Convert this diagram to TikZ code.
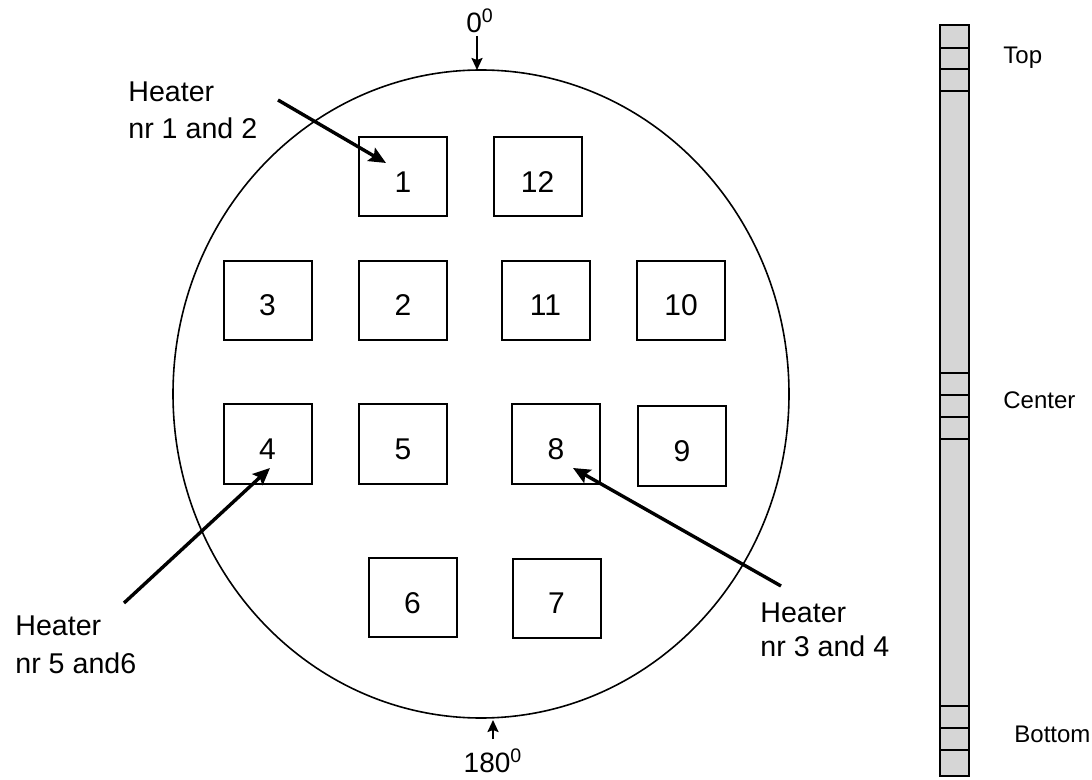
\documentclass[tikz,border=0pt]{standalone}
\usepackage{fontspec}
\setmainfont{Liberation Sans}
\usetikzlibrary{arrows.meta,calc}
\tikzset{
  heaterbox/.style={draw, line width=1pt, minimum width=44pt, minimum height=39.5pt,
    inner sep=0pt, font=\fontsize{15}{17}\selectfont, text height=15.5pt, text depth=0pt},
  pointer/.style={line width=1.7pt, -{Stealth[length=8.5pt,width=7.5pt,inset=1.5pt]}},
  tick/.style={line width=1.1pt, -{Stealth[length=6pt,width=5.5pt,inset=1pt]}},
  heaterlabel/.style={anchor=north west, inner sep=0pt, align=left},
  zonelabel/.style={anchor=west, inner sep=0pt, font=\fontsize{12}{14}\selectfont},
  anglelabel/.style={inner sep=0pt, font=\fontsize{14}{16}\selectfont}
}
\begin{document}
\begin{tikzpicture}[x=0.5pt,y=-0.5pt]
  \useasboundingbox (0,0) rectangle (1092,780);

  % outline of the vessel
  \draw[line width=0.8pt] (481,394) ellipse [x radius=154pt, y radius=162pt];

  % heater positions
  \node[heaterbox] (b1)  at (403,177)   {1};
  \node[heaterbox] (b12) at (537.5,177) {12};
  \node[heaterbox] (b3)  at (267.5,300.5) {3};
  \node[heaterbox] (b2)  at (403,300.5) {2};
  \node[heaterbox] (b11) at (545.5,300.5) {11};
  \node[heaterbox] (b10) at (681,300.5) {10};
  \node[heaterbox] (b4)  at (267.5,444) {4};
  \node[heaterbox] (b5)  at (403,444)   {5};
  \node[heaterbox] (b8)  at (556,444)   {8};
  \node[heaterbox] (b9)  at (682,446)   {9};
  \node[heaterbox] (b6)  at (412.5,597.5) {6};
  \node[heaterbox] (b7)  at (556.5,598) {7};

  % angle marks
  \node[anglelabel] (deg0) at (480,21) {0\textsuperscript{0}};
  \coordinate (top0) at (477,36);
  \coordinate (rim0) at (477,70);
  \draw[tick] (top0) -- (rim0);
  \node[anglelabel] (deg180) at (493,761) {180\textsuperscript{0}};
  \coordinate (bot180) at (493,739);
  \coordinate (rim180) at (493,720);
  \draw[tick] (bot180) -- (rim180);

  % heater pointers
  \node[heaterlabel, font=\fontsize{14.3}{18.5}\selectfont] (h12) at (128,81) {Heater\\nr 1 and 2};
  \coordinate (h12s) at (278,100);
  \coordinate (h12t) at (386,163);
  \draw[pointer] (h12s) -- (h12t);

  \node[heaterlabel, font=\fontsize{14.3}{19}\selectfont] (h56) at (15,615) {Heater\\nr 5 and6};
  \coordinate (h56s) at (124,603);
  \coordinate (h56t) at (270,468);
  \draw[pointer] (h56s) -- (h56t);

  \node[heaterlabel, font=\fontsize{14.3}{17}\selectfont] (h34) at (760,602) {Heater\\nr 3 and 4};
  \coordinate (h34s) at (781,586);
  \coordinate (h34t) at (573,468);
  \draw[pointer] (h34s) -- (h34t);

  % height scale
  \filldraw[fill=black!16, line width=0.9pt] (940,25) rectangle (969,776);
  \foreach \y in {48,69,91,373,395,417,439,706,728,750}
    \draw[line width=0.9pt] (940,\y) -- (969,\y);
  \node[zonelabel] (ztop) at (1003,58)  {Top};
  \node[zonelabel] (zmid) at (1003,400) {Center};
  \node[zonelabel] (zbot) at (1014,734) {Bottom};
\end{tikzpicture}
\end{document}
